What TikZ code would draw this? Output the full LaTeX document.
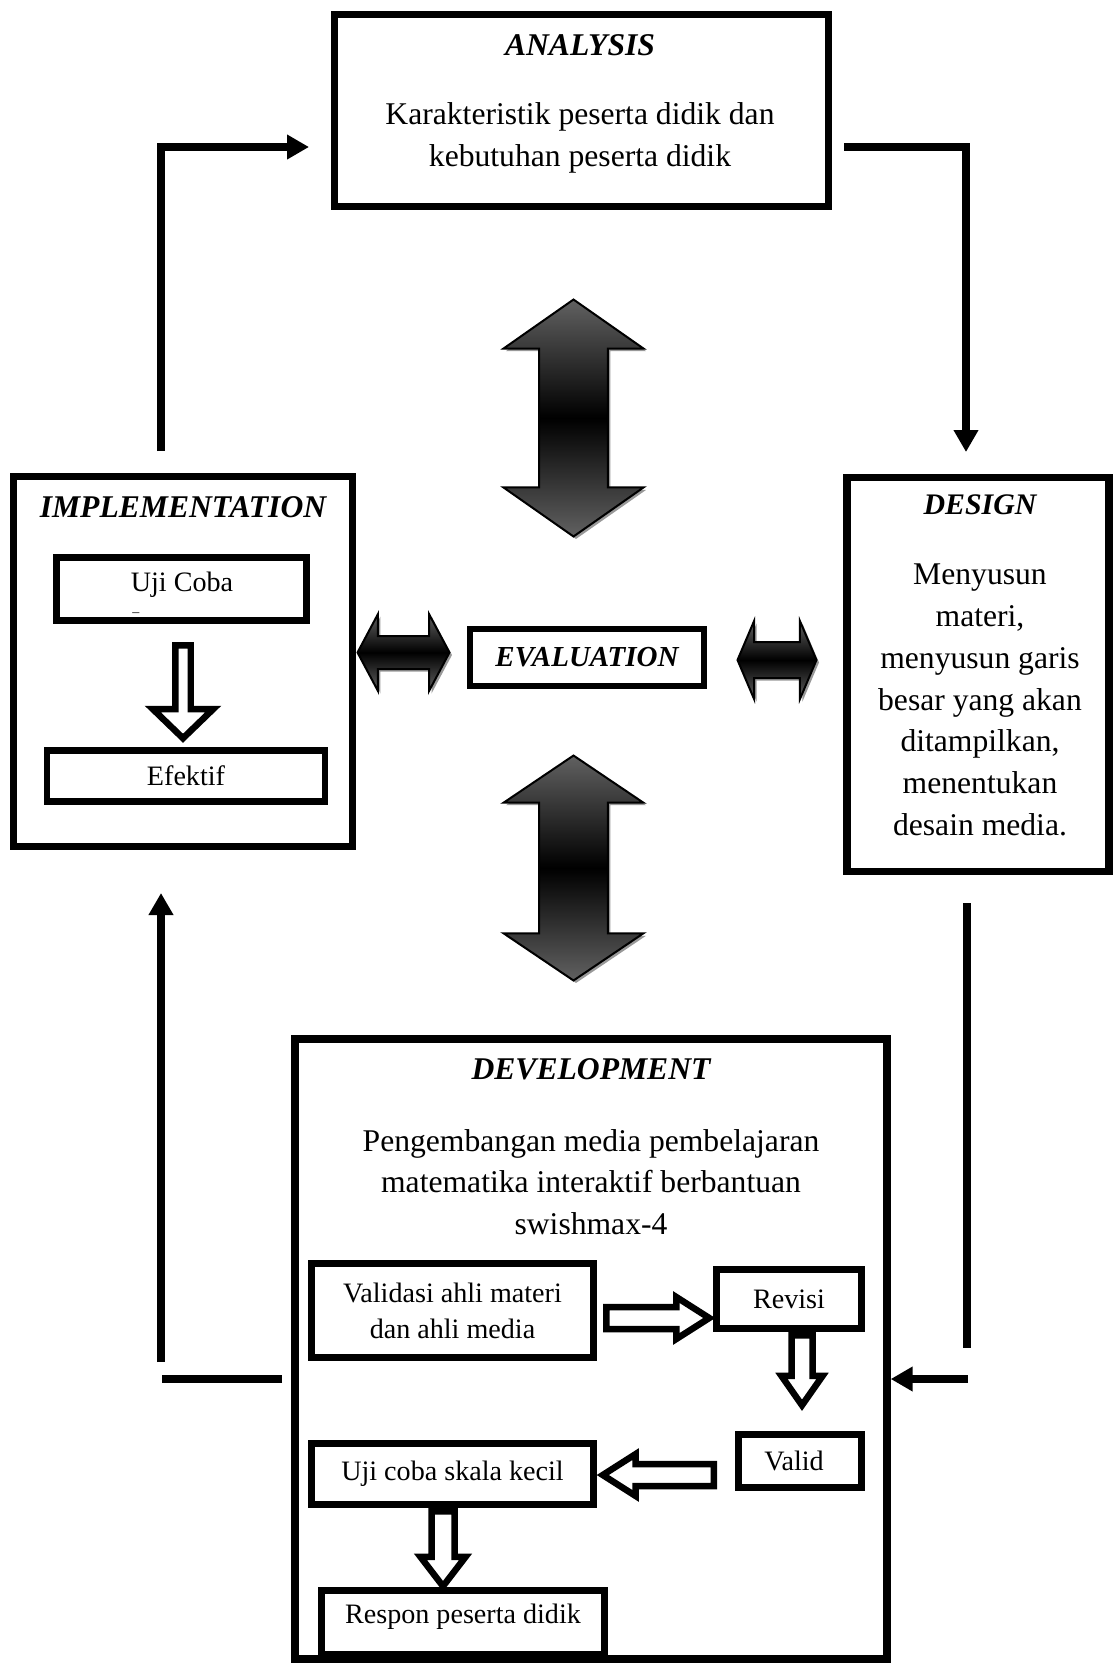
\documentclass[tikz,border=0pt]{standalone}
\usepackage{fontspec}
\setmainfont{Liberation Serif}
\usetikzlibrary{arrows.meta,shapes.arrows,shadows}

\begin{document}
\begin{tikzpicture}[x=0.02cm,y=-0.02cm,
  bigbox/.style={draw,line width=0.15cm,inner sep=0pt},
  smallbox/.style={draw,line width=0.13cm,inner sep=0pt,align=center,font=\fontsize{16}{20.4}\selectfont},
  title/.style={font=\fontsize{18}{22}\selectfont\bfseries\itshape},
  body/.style={align=center,font=\fontsize{18}{23.8}\selectfont},
  loopline/.style={line width=0.15cm},
  looparrow/.style={loopline,-{Triangle[length=0.44cm,width=0.47cm]}},
  hollow/.style={single arrow,draw,fill=white,line width=0.13cm,inner xsep=0pt,anchor=tail},
  evalarrow/.style={double arrow,draw,line width=0.04cm,inner xsep=0pt,
    top color=black!62,bottom color=black!62,middle color=black,
    drop shadow={shadow xshift=0.05cm,shadow yshift=-0.05cm,fill=black!40,opacity=1}}]
\useasboundingbox (0,0) rectangle (1113,1664);

% ANALYSIS
\node[bigbox,minimum width=9.88cm,minimum height=3.84cm] (ana) at (581.5,110.5) {};
\node[title] (anatitle) at (580,45) {ANALYSIS};
\node[body] (anatext) at (580,138) {Karakteristik peserta didik dan\\kebutuhan peserta didik};

% IMPLEMENTATION
\node[bigbox,minimum width=6.78cm,minimum height=7.4cm] (imp) at (183,661.5) {};
\node[title] (imptitle) at (183,507) {IMPLEMENTATION};
\node[smallbox,minimum width=5cm,minimum height=1.26cm] (uji) at (181.5,589) {};
\node[font=\fontsize{16}{20.4}\selectfont] (ujitext) at (182,585) {Uji Coba};
\node[font=\fontsize{8}{8}\selectfont,inner sep=0pt] (ujidash) at (136,615) {--};
\node[smallbox,minimum width=5.57cm,minimum height=1.02cm] (ef) at (186,776) {Efektif};
\node[hollow,rotate=-90,minimum height=1.86cm,inner ysep=0.09cm,
  single arrow head extend=0.45cm,single arrow tip angle=92] (a1) at (183,642) {};

% DESIGN
\node[bigbox,minimum width=5.25cm,minimum height=7.88cm] (des) at (978,674.5) {};
\node[title,font=\fontsize{17}{22}\selectfont\bfseries\itshape] (destitle) at (980,505) {DESIGN};
\node[body] (destext) at (980,700) {Menyusun\\materi,\\menyusun garis\\besar yang akan\\ditampilkan,\\menentukan\\desain media.};

% EVALUATION
\node[smallbox,minimum width=4.68cm,minimum height=1.14cm,
  font=\fontsize{16.5}{20}\selectfont\bfseries\itshape] (eva) at (587,657.5) {EVALUATION};
\node[evalarrow,rotate=90,minimum height=4.74cm,inner ysep=0.67cm,
  double arrow head extend=0.71cm,double arrow tip angle=110] (evaup) at (573.5,418) {};
\node[evalarrow,rotate=90,minimum height=4.5cm,inner ysep=0.67cm,
  double arrow head extend=0.71cm,double arrow tip angle=112] (evadown) at (573.5,868) {};
\node[evalarrow,minimum height=1.84cm,inner ysep=0.31cm,
  double arrow head extend=0.44cm,double arrow tip angle=124] (evaleft) at (403.5,652.5) {};
\node[evalarrow,minimum height=1.58cm,inner ysep=0.34cm,
  double arrow head extend=0.42cm,double arrow tip angle=134] (evaright) at (777,660) {};

% DEVELOPMENT
\node[bigbox,minimum width=11.84cm,minimum height=12.4cm] (dev) at (591,1349) {};
\node[title] (devtitle) at (591,1069) {DEVELOPMENT};
\node[body] (devtext) at (591,1182) {Pengembangan media pembelajaran\\matematika interaktif berbantuan\\swishmax-4};
\node[smallbox,minimum width=5.64cm,minimum height=1.88cm] (val) at (452.5,1310.5) {Validasi ahli materi\\dan ahli media};
\node[smallbox,minimum width=2.9cm,minimum height=1.18cm] (rev) at (789,1299) {Revisi};
\node[smallbox,minimum width=2.46cm,minimum height=1.06cm] (vld) at (800,1461) {};
\node[font=\fontsize{16}{20.4}\selectfont] (vldtext) at (794,1461) {Valid};
\node[smallbox,minimum width=5.64cm,minimum height=1.22cm] (ujikecil) at (452.5,1474) {Uji coba skala kecil};
\node[smallbox,minimum width=5.66cm,minimum height=1.28cm] (res) at (463,1622.5) {};
\node[font=\fontsize{16}{20.4}\selectfont] (restext) at (463,1617) {Respon peserta didik};
\node[hollow,minimum height=2.06cm,inner ysep=0.155cm,
  single arrow head extend=0.2cm,single arrow tip angle=65] (a2) at (603,1318) {};
\node[hollow,rotate=-90,minimum height=1.4cm,inner ysep=0.145cm,
  single arrow head extend=0.2cm,single arrow tip angle=70] (a3) at (802,1332) {};
\node[hollow,rotate=180,minimum height=2.22cm,inner ysep=0.155cm,
  single arrow head extend=0.2cm,single arrow tip angle=65] (a4) at (717,1475) {};
\node[hollow,rotate=-90,minimum height=1.5cm,inner ysep=0.165cm,
  single arrow head extend=0.22cm,single arrow tip angle=75] (a5) at (443,1508) {};

% loop
\coordinate (impup) at (161,451);
\coordinate (anain) at (309,147);
\coordinate (anaout) at (844,147);
\coordinate (desin) at (966,452);
\coordinate (desout) at (967,903);
\coordinate (desend) at (967,1348);
\coordinate (devr) at (968,1379);
\coordinate (devl) at (282,1379);
\coordinate (lowleft) at (162,1379);
\coordinate (impdown) at (161,1362);
\coordinate (impin) at (161,893);
\draw[looparrow] (impup) |- (anain);
\draw[looparrow] (anaout) -| (desin);
\draw[loopline] (desout) -- (desend);
\draw[looparrow] (devr) -- (devr -| dev.east);
\draw[loopline] (devl) -- (lowleft);
\draw[looparrow] (impdown) -- (impin);
\end{tikzpicture}
\end{document}
